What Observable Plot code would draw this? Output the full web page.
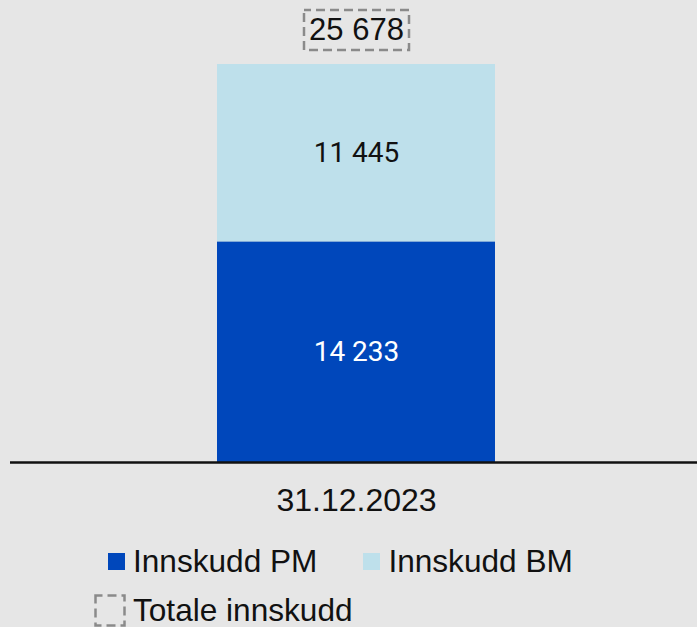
<!DOCTYPE html>
<html>
<head>
<meta charset="utf-8">
<script src="https://cdn.jsdelivr.net/npm/d3@7"></script>
<script src="https://cdn.jsdelivr.net/npm/@observablehq/plot@0.6"></script>
<style>
  html, body { margin: 0; padding: 0; background: #e6e6e6; }
  body { width: 697px; height: 627px; overflow: hidden; font-family: "Liberation Sans"; color: #111; }
  #chart svg { display: block; }
  .legend { position: relative; height: 100px; font-size: 31.6px; line-height: 36px; }
  .row { display: flex; align-items: center; height: 36px; }
  .row1 { margin-top: 16px; padding-left: 108px; }
  .row2 { margin-top: 13px; padding-left: 94px; }
  .sw { width: 17px; height: 17px; display: inline-block; margin-right: 8px; }
  .item2 { margin-left: 46px; display: flex; align-items: center; }
  .item1 { display: flex; align-items: center; }
  .dash { margin-right: 7px; display: block; }
</style>
</head>
<body>
<div id="chart"></div>
<div class="legend" id="legend"></div>
<script>
// ---- data ----
const categories = ["31.12.2023"];
const series = ["Innskudd PM", "Innskudd BM"];
const pmValues = [14233];
const bmValues = [11445];
const totalValues = [25678];
const colors = ["#0047bb", "#bee0eb"];
const labelColors = ["#ffffff", "#111111"];
const legendTotal = "Totale innskudd";

// ---- build table ----
const rows = [];
categories.forEach((c, i) => {
  rows.push({category: c, series: series[0], value: pmValues[i]});
  rows.push({category: c, series: series[1], value: bmValues[i]});
});
const totals = categories.map((c, i) => ({category: c, total: totalValues[i]}));

const locale = d3.formatLocale({decimal: ",", thousands: " ", grouping: [3], currency: ["", ""]});
const fmt = locale.format(",d");

const FONT = "Liberation Sans";

const plot = Plot.plot({
  width: 697,
  height: 527,
  marginLeft: 10,
  marginRight: 0,
  marginTop: 64,
  marginBottom: 65,
  style: {background: "transparent", fontFamily: FONT, color: "#111"},
  x: {domain: categories, padding: 0.42, insetLeft: 5, label: null},
  y: {domain: [0, d3.max(totalValues)], axis: null},
  color: {domain: series, range: colors},
  marks: [
    Plot.barY(rows, {x: "category", y: "value", fill: "series", order: series}),
    Plot.text(rows, Plot.stackY({
      x: "category", y: "value", z: "series", order: series,
      text: d => fmt(d.value),
      fill: d => labelColors[series.indexOf(d.series)],
      fontSize: 28,
      fontFamily: "Roboto"
    })),
    Plot.barY(totals, {
      x: "category", y1: "total", y2: "total",
      insetLeft: 87, insetRight: 86, insetTop: -20, insetBottom: -20, dy: -34,
      fill: "none", stroke: "#8a8a8a", strokeWidth: 2.5, strokeDasharray: "9,5", strokeDashoffset: 2
    }),
    Plot.text(totals, {
      x: "category", y: "total", text: d => fmt(d.total),
      dy: -34, fontSize: 31, fill: "#111", fontFamily: FONT
    }),
    Plot.ruleY([0], {stroke: "#111", strokeWidth: 2.5}),
    Plot.axisX({tickSize: 0, tickPadding: 26, fontSize: 32, label: null, fill: "#111", fontFamily: FONT})
  ]
});
document.getElementById("chart").appendChild(plot);

// ---- legend ----
const legend = document.getElementById("legend");
const row1 = document.createElement("div");
row1.className = "row row1";
series.forEach((s, i) => {
  const item = document.createElement("div");
  item.className = i === 0 ? "item1" : "item2";
  const sw = document.createElement("span");
  sw.className = "sw";
  sw.style.background = colors[i];
  const t = document.createElement("span");
  t.textContent = s;
  item.appendChild(sw);
  item.appendChild(t);
  row1.appendChild(item);
});
legend.appendChild(row1);

const row2 = document.createElement("div");
row2.className = "row row2";
const ns = "http://www.w3.org/2000/svg";
const dsvg = document.createElementNS(ns, "svg");
dsvg.setAttribute("width", 32);
dsvg.setAttribute("height", 33);
dsvg.setAttribute("class", "dash");
const r = document.createElementNS(ns, "rect");
r.setAttribute("x", 1.5); r.setAttribute("y", 1.5);
r.setAttribute("width", 29); r.setAttribute("height", 30);
r.setAttribute("fill", "none"); r.setAttribute("stroke", "#8a8a8a");
r.setAttribute("stroke-width", 2.5); r.setAttribute("stroke-dasharray", "9,5"); r.setAttribute("stroke-dashoffset", 2);
dsvg.appendChild(r);
const t2 = document.createElement("span");
t2.textContent = legendTotal;
row2.appendChild(dsvg);
row2.appendChild(t2);
legend.appendChild(row2);
</script>
</body>
</html>
